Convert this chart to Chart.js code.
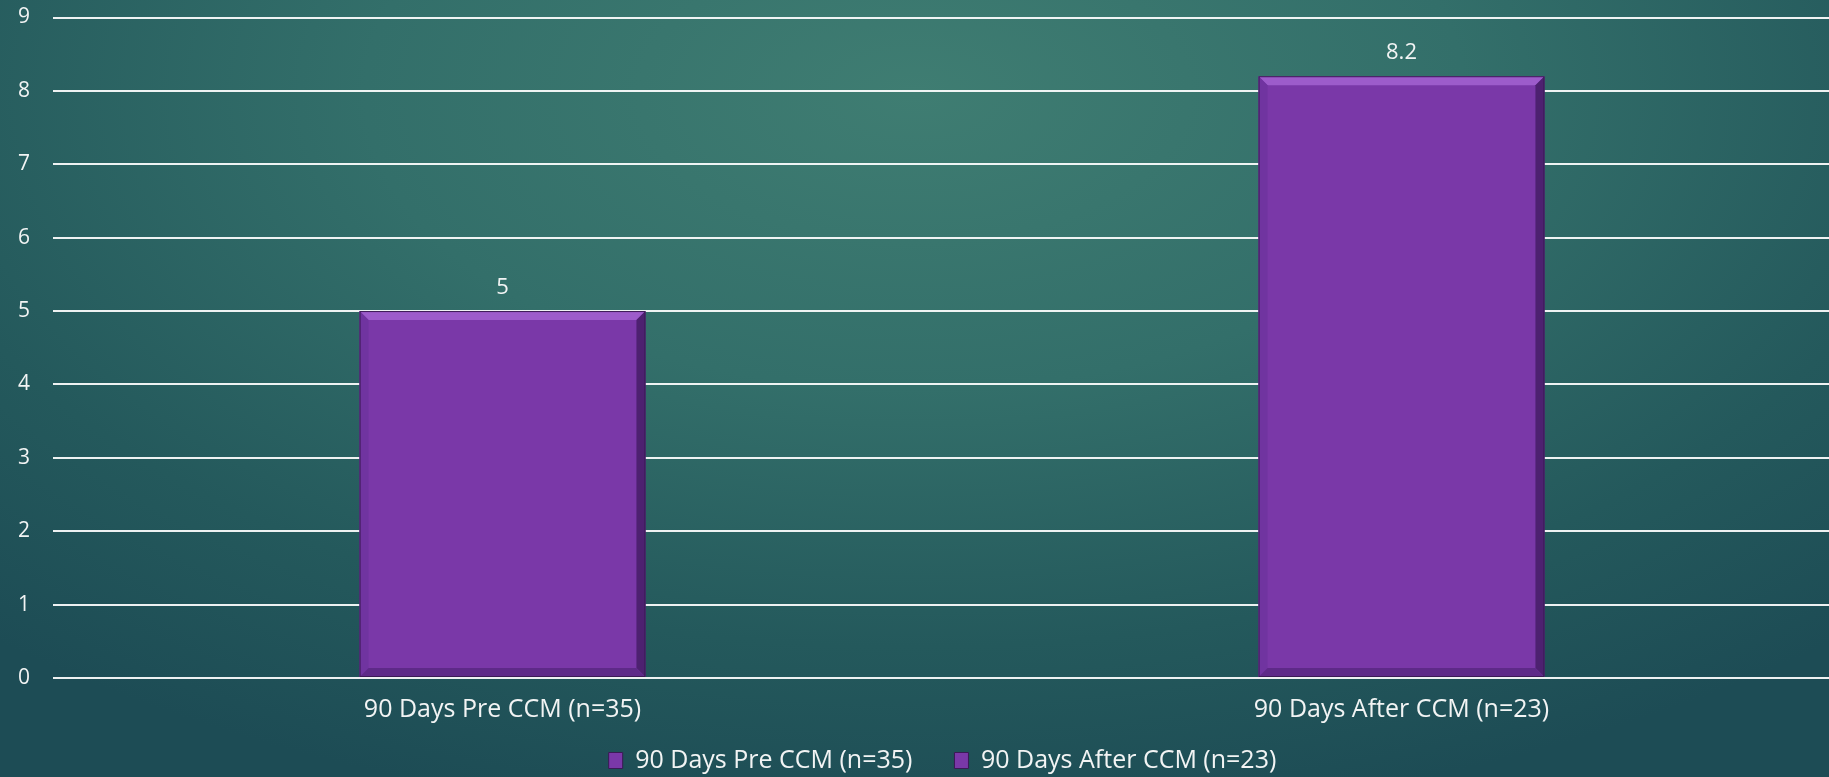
<!DOCTYPE html>
<html>
<head>
<meta charset="utf-8">
<script src="https://cdn.jsdelivr.net/npm/chart.js@4"></script>
<style>
  html, body { margin: 0; padding: 0; overflow: hidden; }
  body {
    width: 1829px; height: 777px;
    background: radial-gradient(ellipse 75% 95% at 50% 12%, #3f7d72 0%, #336f6a 40%, #24595c 75%, #1d4c55 100%);
  }
  #wrap { position: absolute; left: 0; top: 0; width: 1851px; height: 777px; }
</style>
</head>
<body>
<div id="wrap"><canvas id="chart"></canvas></div>
<script>
const categories = ["90 Days Pre CCM (n=35)", "90 Days After CCM (n=23)"];
const values = [5, 8.2];
const yTicks = [0, 1, 2, 3, 4, 5, 6, 7, 8, 9];

const barColor = "#7a38a8";
const textColor = "#f2f4f4";
const fontFamily = "'Open Sans', 'DejaVu Sans', sans-serif";
const plotBottom = 678;
const xAxisHeight = 52;

// bevel on the bars, like the office style
const bevelPlugin = {
  id: "bevel",
  afterDatasetsDraw(chart) {
    const ctx = chart.ctx;
    chart.getDatasetMeta(0).data.forEach((bar) => {
      const l = bar.x - bar.width / 2, r = bar.x + bar.width / 2;
      const t = bar.y, b = bar.base, d = 9;
      ctx.save();
      const quad = (pts, fill) => {
        ctx.beginPath();
        ctx.moveTo(pts[0][0], pts[0][1]);
        for (let i = 1; i < pts.length; i++) ctx.lineTo(pts[i][0], pts[i][1]);
        ctx.closePath();
        ctx.fillStyle = fill;
        ctx.fill();
      };
      quad([[l, t], [r, t], [r - d, t + d], [l + d, t + d]], "#9d5ccb");
      quad([[l, t], [l + d, t + d], [l + d, b - d], [l, b]], "#7034a0");
      quad([[r, t], [r, b], [r - d, b - d], [r - d, t + d]], "#4d2170");
      quad([[l, b], [l + d, b - d], [r - d, b - d], [r, b]], "#5e2a88");
      ctx.strokeStyle = "#3b1a55";
      ctx.lineWidth = 1;
      ctx.strokeRect(l + 0.5, t + 0.5, r - l - 1, b - t - 1);
      ctx.restore();
    });
  }
};

// value labels above bars
const valueLabels = {
  id: "valueLabels",
  afterDatasetsDraw(chart) {
    const ctx = chart.ctx;
    const ds = chart.data.datasets[0];
    ctx.save();
    ctx.font = "22px " + fontFamily;
    ctx.fillStyle = textColor;
    ctx.textAlign = "center";
    ctx.textBaseline = "middle";
    chart.getDatasetMeta(0).data.forEach((bar, i) => {
      ctx.fillText(String(ds.data[i]), bar.x, bar.y - 23);
    });
    ctx.restore();
  }
};

// fix legend box size / position
const legendFix = {
  id: "legendFix",
  beforeInit(chart) {
    const origFit = chart.legend.fit;
    chart.legend.fit = function () {
      origFit.call(this);
      this.height = 777 - plotBottom - xAxisHeight;
    };
  },
  afterLayout(chart) {
    const lg = chart.legend;
    lg.left += 17;
    lg.right += 17;
    lg.top = 706;
    lg.bottom = 777;
    lg.height = lg.bottom - lg.top;
  }
};

new Chart(document.getElementById("chart"), {
  type: "bar",
  data: {
    labels: categories,
    datasets: [{
      label: "values",
      data: values,
      backgroundColor: barColor,
      borderWidth: 0,
      barPercentage: 0.318,
      categoryPercentage: 1
    }]
  },
  options: {
    responsive: true,
    maintainAspectRatio: false,
    animation: false,
    layout: { padding: { top: 17.5, right: 0, bottom: 0, left: 0 } },
    scales: {
      x: {
        grid: { display: false },
        border: { display: false },
        ticks: { color: textColor, font: { family: fontFamily, size: 25 }, padding: 9 },
        afterFit(scale) { scale.height = xAxisHeight; }
      },
      y: {
        min: 0,
        max: 9,
        afterBuildTicks(scale) { scale.ticks = yTicks.map(v => ({ value: v })); },
        grid: { color: "rgba(255,255,255,0.92)", lineWidth: 2, drawTicks: false },
        border: { display: false },
        ticks: { color: textColor, font: { family: fontFamily, size: 21 }, padding: 23 },
        afterFit(scale) {
          scale.width = 53;
          scale.paddingTop = 13;
          scale.paddingBottom = 13;
        }
      }
    },
    plugins: {
      tooltip: { enabled: false },
      legend: {
        position: "bottom",
        labels: {
          color: textColor,
          font: { family: fontFamily, size: 25 },
          boxWidth: 14,
          boxHeight: 16,
          padding: 42,
          generateLabels(chart) {
            return chart.data.labels.map((lbl, i) => ({
              text: lbl,
              fillStyle: barColor,
              strokeStyle: "#3b1a55",
              lineWidth: 1,
              fontColor: textColor,
              index: i
            }));
          }
        }
      }
    }
  },
  plugins: [bevelPlugin, valueLabels, legendFix]
});
</script>
</body>
</html>
